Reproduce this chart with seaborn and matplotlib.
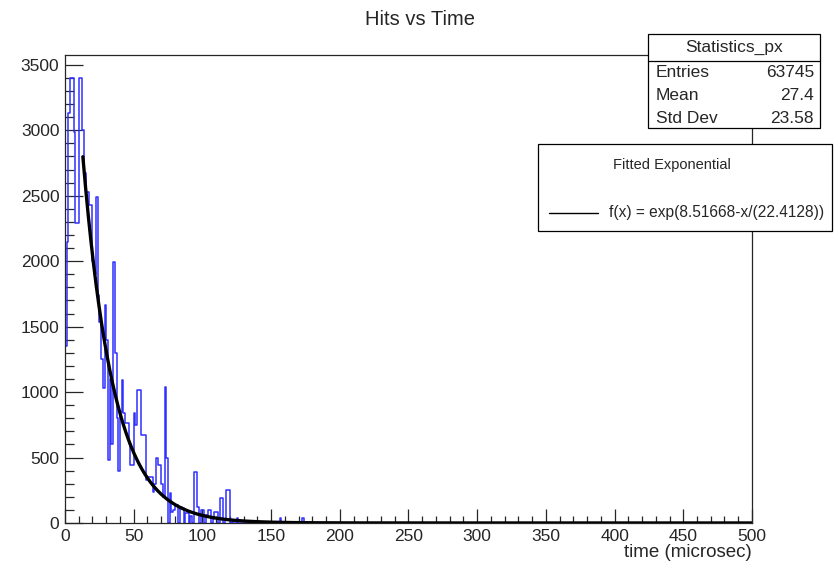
import numpy as np
import pandas as pd
import seaborn as sns
import matplotlib
matplotlib.use("Agg")
import matplotlib.pyplot as plt
from matplotlib.patches import Rectangle
from matplotlib.lines import Line2D
from matplotlib.ticker import MultipleLocator

# histogram: 1.25 microsec bins from 0 to 500, counts
bin_width = 1.25
counts_head = [
    1350, 2150, 3130, 3400, 3400, 2990, 2290, 2290, 3400, 3400,
    3000, 2670, 2530, 2530, 2430, 2430, 2000, 1900, 2490, 1740,
    1535, 1250, 1030, 1665, 1400, 480, 1100, 600, 1990, 1300,
    800, 400, 850, 1090, 840, 760, 760, 600, 440, 440,
    840, 750, 1016, 1016, 670, 670, 670, 330, 350, 350,
    350, 240, 300, 500, 440, 440, 300, 200, 1040, 500,
    0, 230, 80, 100, 140, 140, 0, 120, 115, 0,
    76, 76, 0, 50, 0, 392, 392, 120, 0, 100,
    100, 0, 60, 100, 100, 0, 30, 80, 80, 0,
    190, 190, 0, 30, 250, 250, 0, 20, 0, 0,
    40, 0, 0, 0, 0, 0, 0, 0, 0, 0,
    0, 0, 0, 0, 0, 0, 0, 0, 0, 0,
    0, 0, 0, 0, 0, 40, 0, 0, 0, 0,
    0, 0, 0, 0, 0, 0, 0, 0, 40,
]

# fit parameters shown in the legend
fit_const = 8.51668
fit_tau = 22.4128
fit_start = 13

stats_labels = ["Entries", "Mean", "Std Dev"]
stats_values = ["63745", "27.4", "23.58"]

sns.set_style("ticks")
plt.rcParams["font.family"] = ["Liberation Sans", "DejaVu Sans"]

edges = np.arange(0, 500 + bin_width, bin_width)
counts = np.zeros(len(edges) - 1)
counts[:len(counts_head)] = counts_head
hist_df = pd.DataFrame({"time": (edges[:-1] + edges[1:]) / 2, "count": counts})

fig = plt.figure(figsize=(8.4, 5.63), dpi=100)
ax = fig.add_axes([0.0774, 0.0711, 0.8178, 0.8312])

sns.histplot(data=hist_df, x="time", weights="count", bins=edges.tolist(),
             element="step", fill=False, color="#3030ff", linewidth=1.1, ax=ax)

x_fit = np.linspace(fit_start, 500, 500)
y_fit = np.exp(fit_const - x_fit / fit_tau)
sns.lineplot(x=x_fit, y=y_fit, color="black", linewidth=2.4, ax=ax)

ax.set_xlim(0, 500)
ax.set_ylim(0, 3575)
ax.xaxis.set_major_locator(MultipleLocator(50))
ax.xaxis.set_minor_locator(MultipleLocator(10))
ax.yaxis.set_major_locator(MultipleLocator(500))
ax.yaxis.set_minor_locator(MultipleLocator(100))
ax.tick_params(axis="x", which="major", direction="in", length=10, width=0.9, pad=4, labelsize=12.5)
ax.tick_params(axis="x", which="minor", direction="in", length=5, width=0.9)
ax.tick_params(axis="y", which="major", direction="in", length=13, width=0.9, pad=4, labelsize=12.5)
ax.tick_params(axis="y", which="minor", direction="in", length=6.5, width=0.9)
for s in ax.spines.values():
    s.set_linewidth(0.9)
ax.set_ylabel("")
ax.set_xlabel("time (microsec)", fontsize=13.5, loc="right", labelpad=0)

fig.text(0.5, 0.965, "Hits vs Time", ha="center", va="center", fontsize=14.5)

# statistics box
fig.add_artist(Rectangle((0.7714, 0.7726), 0.2048, 0.167, transform=fig.transFigure,
                         facecolor="white", edgecolor="black", linewidth=0.9))
fig.add_artist(Line2D([0.7714, 0.9762], [0.8917, 0.8917], transform=fig.transFigure,
                      color="black", linewidth=0.9))
fig.text(0.8738, 0.9165, "Statistics_px", ha="center", va="center", fontsize=12.5)
for i, (lab, val) in enumerate(zip(stats_labels, stats_values)):
    y = 0.872 - i * 0.0409
    fig.text(0.781, y, lab, ha="left", va="center", fontsize=12.5)
    fig.text(0.969, y, val, ha="right", va="center", fontsize=12.5)

# fit legend box
fig.add_artist(Rectangle((0.640, 0.5902), 0.350, 0.154, transform=fig.transFigure,
                         facecolor="white", edgecolor="black", linewidth=0.9))
fig.text(0.8, 0.707, "Fitted Exponential", ha="center", va="center", fontsize=10.5)
fig.add_artist(Line2D([0.6536, 0.712], [0.6222, 0.6222], transform=fig.transFigure,
                      color="black", linewidth=1))
fig.text(0.7245, 0.6222, f"f(x) = exp({fit_const}-x/({fit_tau}))",
         ha="left", va="center", fontsize=11.2)

fig.savefig("out.png", dpi=100)
